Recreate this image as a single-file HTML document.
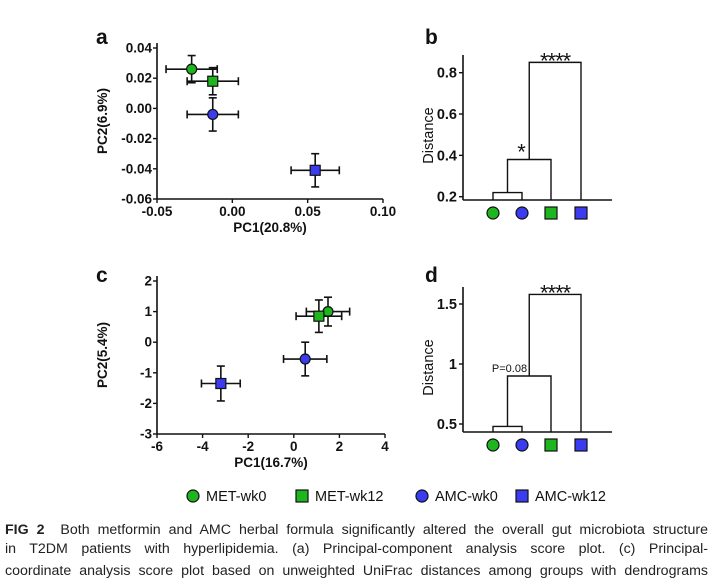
<!DOCTYPE html>
<html><head><meta charset="utf-8">
<style>
body{margin:0;background:#fff;width:715px;height:563px;overflow:hidden;position:relative;font-family:"Liberation Sans",sans-serif}
svg{position:absolute;left:0;top:0}
.cap{position:absolute;left:5px;width:703px;font-size:14.2px;color:#222;text-align:justify;text-align-last:justify;white-space:nowrap;line-height:16px}
</style></head><body>
<svg id="fig" width="715" height="563"></svg>
<div class="cap" style="top:522px"><b>FIG 2</b>&nbsp; Both metformin and AMC herbal formula significantly altered the overall gut microbiota structure</div>
<div class="cap" style="top:541px">in T2DM patients with hyperlipidemia. (a) Principal-component analysis score plot. (c) Principal-</div>
<div class="cap" style="top:563px">coordinate analysis score plot based on unweighted UniFrac distances among groups with dendrograms</div>
<script>
// ---- data ----
const groups=["MET-wk0","MET-wk12","AMC-wk0","AMC-wk12"];
const colors=["#1fb51f","#1fb51f","#3b3bf0","#3b3bf0"];
const shapes=["circle","square","circle","square"];
// dendrogram leaf order (indices into groups)
const leafOrder=[0,2,1,3];
// panel a
const aX=[-0.027,-0.013,-0.013,0.055];
const aY=[0.026,0.018,-0.004,-0.041];
const aXerr=[0.017,0.017,0.017,0.016];
const aYerr=[0.009,0.009,0.011,0.011];
const aXticks=[-0.05,0,0.05,0.10];
const aXtickLabels=["-0.05","0.00","0.05","0.10"];
const aYticks=[0.04,0.02,0,-0.02,-0.04,-0.06];
const aYtickLabels=["0.04","0.02","0.00","-0.02","-0.04","-0.06"];
// panel c
const cX=[1.5,1.1,0.5,-3.2];
const cY=[1.0,0.85,-0.55,-1.35];
const cXerr=[0.95,1.0,0.95,0.85];
const cYerr=[0.47,0.53,0.55,0.57];
const cXticks=[-6,-4,-2,0,2,4];
const cYticks=[2,1,0,-1,-2,-3];
// panel b dendrogram heights
const bHeights=[0.22,0.38,0.85];
const bYticks=[0.2,0.4,0.6,0.8];
const bYtickLabels=["0.2","0.4","0.6","0.8"];
const bLabels=["","*","****"];
// panel d
const dHeights=[0.48,0.9,1.58];
const dYticks=[0.5,1,1.5];
const dYtickLabels=["0.5","1","1.5"];
const dLabels=["","P=0.08","****"];

const svg=document.getElementById('fig');
const NS="http://www.w3.org/2000/svg";
function el(t,a,p){const e=document.createElementNS(NS,t);for(const k in a)e.setAttribute(k,a[k]);(p||svg).appendChild(e);return e;}
function txt(s,a,p){const e=el('text',Object.assign({'font-family':'Liberation Sans, sans-serif','font-weight':'bold','font-size':'13.5','fill':'#111'},a),p);e.textContent=s;return e;}
function lin(d0,d1,r0,r1){return v=>r0+(v-d0)/(d1-d0)*(r1-r0);}
function marker(g,shape,x,y,c,r){
  let m;
  if(shape==='circle') m=el('circle',{cx:x,cy:y,r:r,fill:c,stroke:'#111','stroke-width':1.2},g);
  else m=el('rect',{x:x-r,y:y-r,width:2*r,height:2*r,fill:c,stroke:'#111','stroke-width':1.2},g);
  return m;
}
function letter(s,x,y,name){const t=txt(s,{x:x,y:y,'font-size':'21'});}

function scatter(name,X,Y,Xe,Ye,sx,sy,xt,xtl,yt,ytl,xlab,ylab,x0,x1,y0,y1){
  const g=el('g',{});
  
  
  el('line',{x1:x0,y1:y1,x2:x0,y2:y0,stroke:'#111','stroke-width':1.6},g);
  el('line',{x1:x0,y1:y1,x2:x1,y2:y1,stroke:'#111','stroke-width':1.6},g);
  xt.forEach((v,i)=>{const x=sx(v);el('line',{x1:x,y1:y1,x2:x,y2:y1+4,stroke:'#111','stroke-width':1.4},g);
    const t=txt(xtl[i],{x:x,y:y1+17,'text-anchor':'middle'},g);});
  yt.forEach((v,i)=>{const y=sy(v);el('line',{x1:x0-4,y1:y,x2:x0,y2:y,stroke:'#111','stroke-width':1.4},g);
    const t=txt(ytl[i],{x:x0-5,y:y+4.5,'text-anchor':'end'},g);});
  const xl=txt(xlab,{x:(x0+x1)/2,y:y1+33,'text-anchor':'middle'},g);
  
  const yl=txt(ylab,{x:0,y:0,'text-anchor':'middle',transform:`translate(${x0-50},${(y0+y1)/2}) rotate(-90)`},g);
  
  X.forEach((v,i)=>{
    const pg=el('g',{},g);
    
    
    const x=sx(v),y=sy(Y[i]);
    const xa=sx(v-Xe[i]),xb=sx(v+Xe[i]),ya=sy(Y[i]-Ye[i]),yb=sy(Y[i]+Ye[i]);
    const st={stroke:'#111','stroke-width':1.6};
    el('line',Object.assign({x1:xa,y1:y,x2:xb,y2:y},st),pg);
    el('line',Object.assign({x1:xa,y1:y-4,x2:xa,y2:y+4},st),pg);
    el('line',Object.assign({x1:xb,y1:y-4,x2:xb,y2:y+4},st),pg);
    el('line',Object.assign({x1:x,y1:ya,x2:x,y2:yb},st),pg);
    el('line',Object.assign({x1:x-4,y1:ya,x2:x+4,y2:ya},st),pg);
    el('line',Object.assign({x1:x-4,y1:yb,x2:x+4,y2:yb},st),pg);
    marker(pg,shapes[i],x,y,colors[i],5);
  });
}

function dendro(name,H,sy,yt,ytl,labs,axisY,leafY,topY){
  const g=el('g',{});
  
  
  const x0=463,x1=612,lx=[493,522,551,581];
  el('line',{x1:x0,y1:topY,x2:x0,y2:axisY,stroke:'#111','stroke-width':1.6},g);
  el('line',{x1:x0,y1:axisY,x2:x1,y2:axisY,stroke:'#111','stroke-width':1.6},g);
  yt.forEach((v,i)=>{const y=sy(v);el('line',{x1:x0-4,y1:y,x2:x0,y2:y,stroke:'#111','stroke-width':1.4},g);
    const t=txt(ytl[i],{x:x0-6,y:y+5,'text-anchor':'end','font-size':'14.5'},g);});
  const yl=txt('Distance',{x:0,y:0,'text-anchor':'middle','font-weight':'normal','font-size':'14.5',transform:`translate(${x0-30},${(topY+axisY)/2+8}) rotate(-90)`},g);
  
  const st={stroke:'#111','stroke-width':1.4,fill:'none'};
  const base=axisY;
  const h0=sy(H[0]);
  el('path',Object.assign({d:`M${lx[0]},${base}V${h0}H${lx[1]}V${base}`},st),g);
  const m0=(lx[0]+lx[1])/2;
  const h1=sy(H[1]);
  el('path',Object.assign({d:`M${m0},${h0}V${h1}H${lx[2]}V${base}`},st),g);
  const m1=(m0+lx[2])/2;
  const h2=sy(H[2]);
  el('path',Object.assign({d:`M${m1},${h1}V${h2}H${lx[3]}V${base}`},st),g);
  if(labs[1]){
    const star=labs[1]==='*';
    const t=txt(labs[1],{x:star?m0+14:m0+2,y:star?h1:h1-4,'text-anchor':'middle','font-weight':'normal','font-size':star?'22':'11'},g);
    }
  const t2=txt(labs[2],{x:(m1+lx[3])/2,y:h2+6,'text-anchor':'middle','font-weight':'normal','font-size':'22','letter-spacing':'-1'},g);
  
  leafOrder.forEach((gi,i)=>{const m=marker(g,shapes[gi],lx[i],leafY,colors[gi],6);});
}

letter('a',96,44,'panel-a-label');
letter('b',425,44,'panel-b-label');
letter('c',96,282,'panel-c-label');
letter('d',425,282,'panel-d-label');

scatter('panel-a-pca',aX,aY,aXerr,aYerr,lin(-0.05,0.10,157,383),lin(0.04,-0.06,48,199),
  aXticks,aXtickLabels,aYticks,aYtickLabels,'PC1(20.8%)','PC2(6.9%)',157,383,43,199);
scatter('panel-c-pcoa',cX,cY,cXerr,cYerr,lin(-6,4,157,385),lin(2,-3,281,434),
  cXticks,cXticks.map(String),cYticks,cYticks.map(String),'PC1(16.7%)','PC2(5.4%)',157,385,276,434);
dendro('panel-b-dendrogram',bHeights,lin(0.2,0.8,196.7,72.7),bYticks,bYtickLabels,bLabels,200,213,55);
dendro('panel-d-dendrogram',dHeights,lin(0.5,1.5,424,304),dYticks,dYtickLabels,dLabels,432,445,287);

// legend
const lg=el('g',{});


const lgx=[193,302,422,522];
groups.forEach((gname,i)=>{
  const e=el('g',{},lg);
  
  
  marker(e,shapes[i],lgx[i],496,colors[i],6);
  txt(gname,{x:lgx[i]+13,y:501,'font-size':'14.5','font-weight':'normal'},e);
});
</script>
</body></html>
